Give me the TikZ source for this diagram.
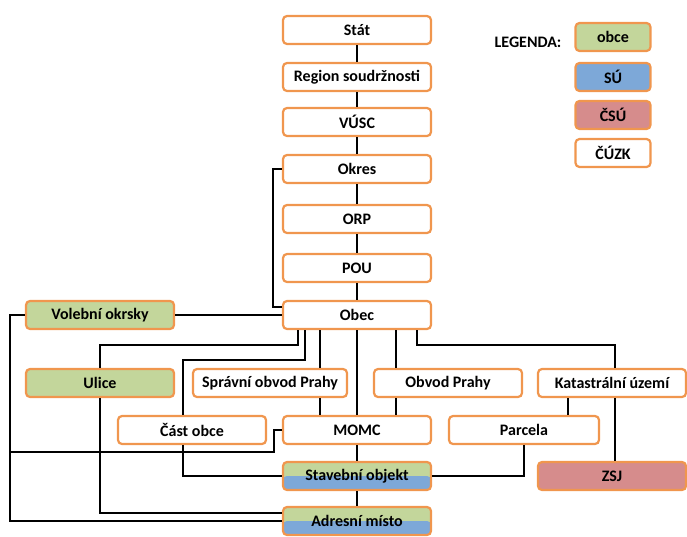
\documentclass[tikz,border=0pt]{standalone}
\usepackage{fontspec}
\setmainfont{Carlito}
\definecolor{boxorange}{RGB}{240,150,78}
\definecolor{obcegreen}{RGB}{195,214,155}
\definecolor{sublue}{RGB}{125,168,216}
\definecolor{csured}{RGB}{214,140,140}
\begin{document}
\begin{tikzpicture}[x=1pt, y=-1pt, line width=1.5pt,
	unit/.style={draw=boxorange, line width=2.2pt, rounded corners=4pt, fill=white, minimum width=148pt, minimum height=28pt, inner sep=0pt, font=\bfseries\fontsize{16}{18}\selectfont},
	obce/.style={unit, fill=obcegreen},
	su/.style={unit, fill=sublue},
	csu/.style={unit, fill=csured},
	split/.style={unit, fill=obcegreen, path picture={\fill[sublue] (path picture bounding box.west) rectangle (path picture bounding box.south east);}},
	key/.style={minimum width=75pt}]
	\useasboundingbox (0,0) rectangle (687,536);

	%main column
	\node[unit] (stat) at (357,30){Stát};
	\node[unit] (region) at (357,77){Region soudržnosti};
	\node[unit] (vusc) at (357,122){VÚSC};
	\node[unit] (okres) at (357,169){Okres};
	\node[unit] (orp) at (357,219){ORP};
	\node[unit] (pou) at (357,268){POU};
	\node[unit] (obec) at (357,315){Obec};

	%lower levels
	\node[obce] (volebni) at (100,315){Volební okrsky};
	\node[obce] (ulice) at (100,383){Ulice};
	\node[unit, minimum width=154pt] (spravni) at (270,383){Správní obvod Prahy};
	\node[unit] (obvod) at (448,383){Obvod Prahy};
	\node[unit] (katastr) at (612,383){Katastrální území};
	\node[unit] (castobce) at (192,430){Část obce};
	\node[unit] (momc) at (357,430){MOMC};
	\node[unit, minimum width=150pt] (parcela) at (524,430){Parcela};
	\node[split] (stavebni) at (357,476){Stavební objekt};
	\node[csu] (zsj) at (612,476){ZSJ};
	\node[split] (adresni) at (357,521){Adresní místo};
	\coordinate (rail) at (10,452);

	%legend
	\node[font=\bfseries\fontsize{16}{18}\selectfont] (legenda) at (528,42){LEGENDA:};
	\node[obce, key] (kobce) at (613,37){obce};
	\node[su, key] (ksu) at (613,77){SÚ};
	\node[csu, key] (kcsu) at (613,115){ČSÚ};
	\node[unit, key] (kcuzk) at (613,153){ČÚZK};

	%links
	\draw (stat) -- (region);
	\draw (region) -- (vusc);
	\draw (vusc) -- (okres);
	\draw (okres) -- (orp);
	\draw (orp) -- (pou);
	\draw (pou) -- (obec);
	\draw (okres.west) -- ++(-9,0) |- ([yshift=8pt]obec.west);
	\draw (volebni) -- (obec);
	\draw (volebni.west) -- ++(-15,0) |- (adresni.west);
	\draw ([xshift=-59pt]obec.south) -- ++(0,15) -| (ulice.north);
	\draw (ulice.south) |- ([yshift=8pt]adresni.west);
	\draw ([xshift=-52pt]obec.south) -- ++(0,30) -| ([xshift=-9pt]castobce.north);
	\draw ([xshift=-9pt]castobce.south) |- (stavebni.west);
	\draw ([xshift=-37pt]obec.south) -- ([xshift=50pt]spravni.north);
	\draw ([xshift=50pt]spravni.south) -- ([xshift=-37pt]momc.north);
	\draw (obec) -- (momc);
	\draw ([xshift=39pt]obec.south) -- ([xshift=-52pt]obvod.north);
	\draw ([xshift=-52pt]obvod.south) -- ([xshift=39pt]momc.north);
	\draw ([xshift=60pt]obec.south) -- ++(0,15) -| ([xshift=3pt]katastr.north);
	\draw ([xshift=-44pt]katastr.south) -- ([xshift=44pt]parcela.north);
	\draw ([xshift=3pt]katastr.south) -- ([xshift=3pt]zsj.north);
	\draw (parcela.south) |- (stavebni.east);
	\draw (momc.west) -- ++(-8,0) |- (rail);
	\draw (momc) -- (stavebni);
	\draw (stavebni) -- (adresni);

\end{tikzpicture}
\end{document}
